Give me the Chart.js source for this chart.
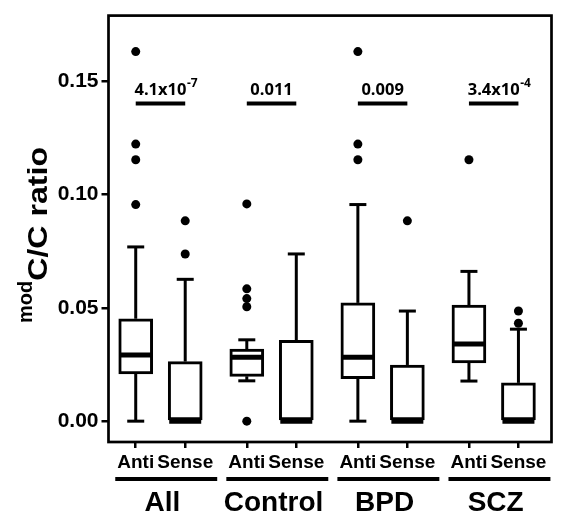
<!DOCTYPE html>
<html><head><meta charset="utf-8">
<script src="https://cdn.jsdelivr.net/npm/chart.js@4"></script>
<style>html,body{margin:0;padding:0;background:#fff}#wrap{width:566px;height:513px}</style>
</head><body><div id="wrap"><canvas id="c" width="566" height="513"></canvas></div>
<script>
const groups = ['All', 'Control', 'BPD', 'SCZ'];
const strands = ['Anti', 'Sense'];
const yTickValues = [0, 0.05, 0.10, 0.15];
const mins    = [0,      0,      0.0178, 0,      0,      0,      0.0177, 0];
const q1      = [0.0209, 0,      0.0198, 0,      0.0187, 0,      0.0257, 0];
const medians = [0.0292, 0,      0.0282, 0,      0.0282, 0,      0.0340, 0];
const q3      = [0.0452, 0.0263, 0.0318, 0.0357, 0.0522, 0.0248, 0.0512, 0.0169];
const maxs    = [0.0769, 0.0626, 0.0359, 0.0738, 0.0956, 0.0486, 0.0661, 0.0406];
const outliers = [
  [0.1631, 0.1223, 0.1154, 0.0956],
  [0.0884, 0.0738],
  [0.0959, 0.0584, 0.0541, 0.0505, 0],
  [],
  [0.1631, 0.1223, 0.1154],
  [0.0884],
  [0.1154],
  [0.0486, 0.0432]
];
const pBase = ['4.1x10', '0.011', '0.009', '3.4x10'];
const pExp  = ['-7', '', '', '-4'];
const sigLevel = 0.1402;

const GROUP_STEP = 2.244;
const positions = [];
const tickLabels = [];
groups.forEach((g, gi) => strands.forEach((s, si) => {
  positions.push(gi * GROUP_STEP + si);
  tickLabels.push(s);
}));

const boxData = positions.map((x, i) => ({x: x, y: [q1[i], q3[i]]}));
const outlierData = [];
outliers.forEach((arr, i) => arr.forEach(v => outlierData.push({x: positions[i], y: v})));

const SANS = '"Liberation Sans", Arial, sans-serif';

const extras = {
  id: 'extras',
  afterDatasetsDraw(chart) {
    const ctx = chart.ctx, xs = chart.scales.x, ys = chart.scales.y, a = chart.chartArea;
    ctx.save();
    ctx.strokeStyle = '#000'; ctx.fillStyle = '#000';
    const capHalf = 8.5, boxHalf = 16;
    positions.forEach((p, i) => {
      const cx = xs.getPixelForValue(p);
      ctx.lineWidth = 3; ctx.lineCap = 'butt';
      if (maxs[i] > q3[i]) {
        const yt = ys.getPixelForValue(maxs[i]), yb = ys.getPixelForValue(q3[i]);
        ctx.beginPath(); ctx.moveTo(cx, yb); ctx.lineTo(cx, yt); ctx.stroke();
        ctx.beginPath(); ctx.moveTo(cx - capHalf, yt); ctx.lineTo(cx + capHalf, yt); ctx.stroke();
      }
      if (mins[i] < q1[i]) {
        const yt = ys.getPixelForValue(q1[i]), yb = ys.getPixelForValue(mins[i]);
        ctx.beginPath(); ctx.moveTo(cx, yt); ctx.lineTo(cx, yb); ctx.stroke();
        ctx.beginPath(); ctx.moveTo(cx - capHalf, yb); ctx.lineTo(cx + capHalf, yb); ctx.stroke();
      }
      const ym = ys.getPixelForValue(medians[i]);
      ctx.lineWidth = 5;
      ctx.beginPath(); ctx.moveTo(cx - boxHalf, ym); ctx.lineTo(cx + boxHalf, ym); ctx.stroke();
    });
    ctx.lineWidth = 2.7;
    ctx.strokeRect(a.left, a.top, a.right - a.left, a.bottom - a.top);
    groups.forEach((g, gi) => {
      const xa = xs.getPixelForValue(positions[gi * 2]);
      const xb = xs.getPixelForValue(positions[gi * 2 + 1]);
      const yb = ys.getPixelForValue(sigLevel);
      ctx.lineWidth = 4;
      ctx.beginPath(); ctx.moveTo(xa, yb); ctx.lineTo(xb, yb); ctx.stroke();
      const mid = (xa + xb) / 2;
      ctx.font = 'bold 16.5px "Open Sans", sans-serif';
      ctx.textAlign = 'center'; ctx.textBaseline = 'alphabetic';
      ctx.fillText(pBase[gi], mid, yb - 8.5);
      if (pExp[gi]) {
        const w = ctx.measureText(pBase[gi]).width;
        ctx.font = 'bold 12px "Open Sans", sans-serif';
        ctx.textAlign = 'left';
        ctx.fillText(pExp[gi], mid + w / 2 + 0.5, yb - 16.5);
      }
    });
    const lf = 'bold 19px ' + SANS;
    groups.forEach((g, gi) => {
      const xa = xs.getPixelForValue(positions[gi * 2]);
      const xb = xs.getPixelForValue(positions[gi * 2 + 1]);
      ctx.font = lf;
      const wA = ctx.measureText(strands[0]).width, wS = ctx.measureText(strands[1]).width;
      const l = xa - wA / 2 - 2, r = xb + wS / 2 + 4;
      ctx.lineWidth = 4;
      ctx.beginPath(); ctx.moveTo(l, 479); ctx.lineTo(r, 479); ctx.stroke();
      ctx.font = 'bold 28px ' + SANS;
      ctx.textAlign = 'center'; ctx.textBaseline = 'alphabetic';
      ctx.fillText(g, (xa + xb) / 2 + 2, 511);
    });
    // y-axis title with superscript "mod"
    const yTop = 147, yBot = 323;
    ctx.font = 'bold 20px ' + SANS;
    const wm = ctx.measureText('mod').width;
    ctx.font = 'bold 28px ' + SANS;
    const wc = ctx.measureText('C/C ratio').width;
    const targetC = (yBot - yTop) - wm;
    ctx.translate(47, yBot);
    ctx.rotate(-Math.PI / 2);
    ctx.textAlign = 'left'; ctx.textBaseline = 'alphabetic';
    ctx.font = 'bold 20px ' + SANS;
    ctx.fillText('mod', 0, -15);
    ctx.translate(wm, 0);
    ctx.scale(targetC / wc, 1);
    ctx.font = 'bold 28px ' + SANS;
    ctx.fillText('C/C ratio', 0, 0);
    ctx.restore();
  }
};

new Chart(document.getElementById('c'), {
  type: 'bar',
  data: {
    datasets: [
      {type: 'scatter', data: outlierData, backgroundColor: '#000', borderColor: '#000',
       pointRadius: 4.5, pointHoverRadius: 4.5, borderWidth: 0, order: 0},
      {type: 'bar', data: boxData, backgroundColor: '#fff', borderColor: '#000',
       borderWidth: 3, borderSkipped: false, barThickness: 34, order: 1}
    ]
  },
  options: {
    responsive: false, animation: false, events: [],
    layout: {padding: {top: 12, right: 14.5, left: 0, bottom: 0}},
    plugins: {legend: {display: false}, tooltip: {enabled: false}, title: {display: false}},
    scales: {
      x: {
        type: 'linear', min: -0.55, max: 8.40, offset: false,
        afterBuildTicks: s => { s.ticks = positions.map(v => ({value: v})); },
        afterFit: s => { s.height = 71; },
        ticks: {callback: (v, i) => tickLabels[i], color: '#000', autoSkip: false, maxRotation: 0,
                padding: 3, font: {family: SANS, size: 19, weight: 'bold'}},
        grid: {offset: false, drawOnChartArea: false, drawTicks: true, tickLength: 6, color: '#000', lineWidth: 2.5},
        border: {display: false}
      },
      y: {
        min: -0.0092, max: 0.179,
        afterBuildTicks: s => { s.ticks = yTickValues.map(v => ({value: v})); },
        afterFit: s => { s.width = 108.5; },
        ticks: {callback: v => v.toFixed(2), color: '#000', padding: 3,
                font: {family: SANS, size: 21, weight: 'bold'}},
        grid: {drawOnChartArea: false, drawTicks: true, tickLength: 7, color: '#000', lineWidth: 2.5},
        border: {display: false}
      }
    }
  },
  plugins: [extras]
});
</script>
</body></html>
